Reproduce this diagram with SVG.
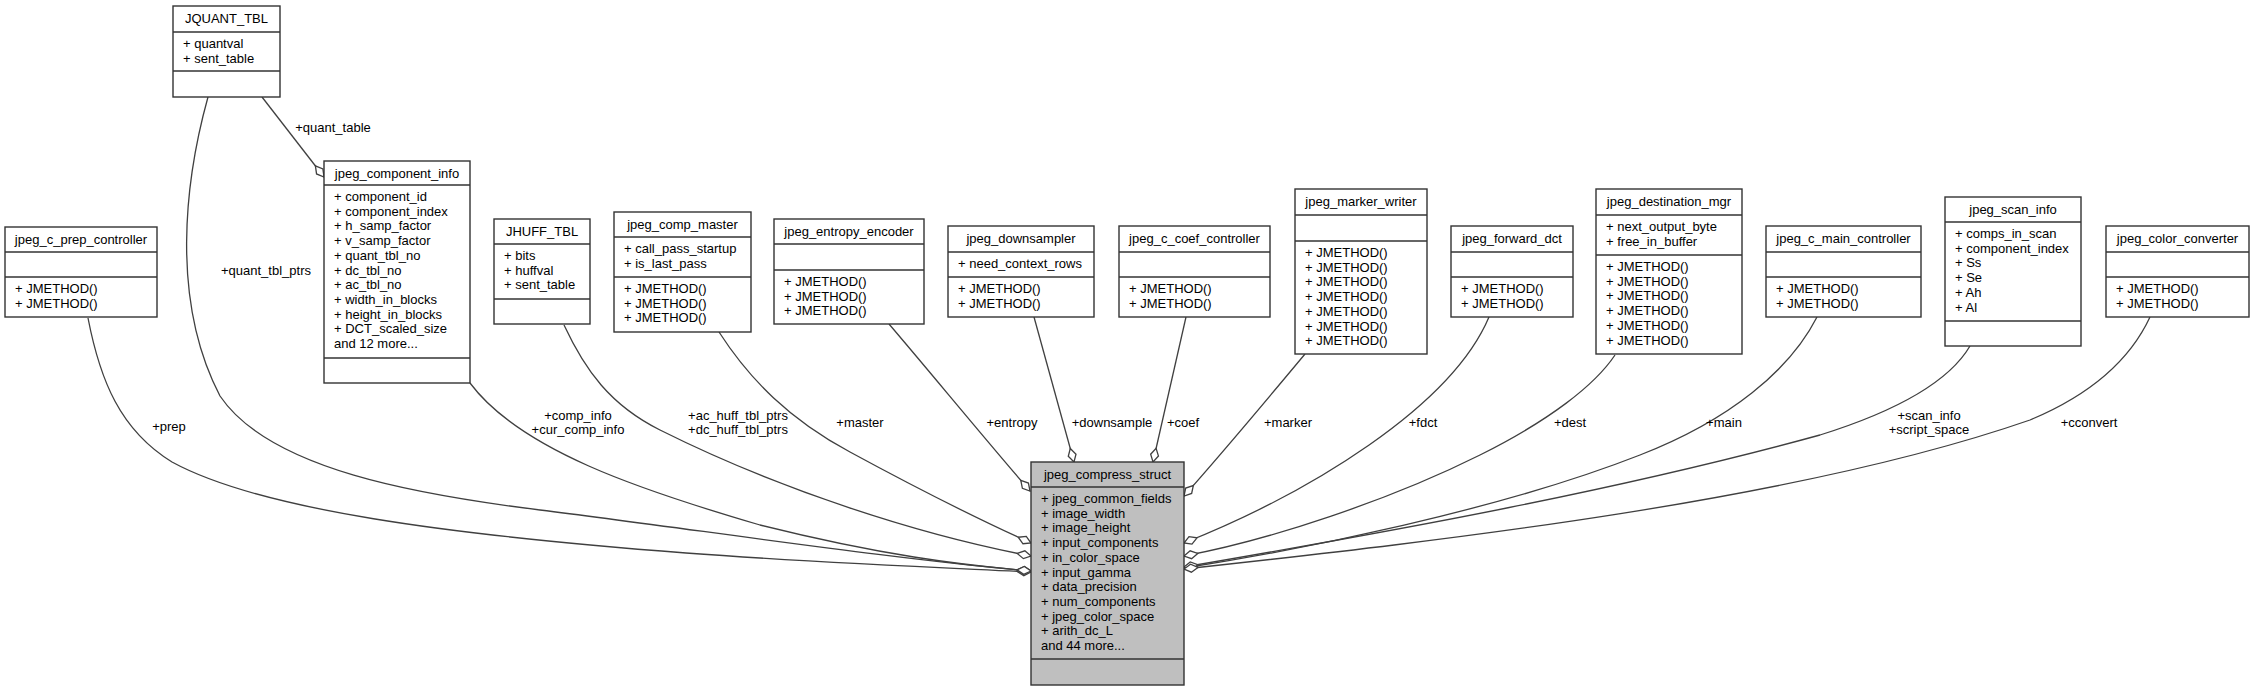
<svg xmlns="http://www.w3.org/2000/svg" width="2254" height="691" viewBox="0 0 2254 691">
<style>
.bg{fill:#ffffff}
.box{fill:#ffffff;stroke:#333333;stroke-width:1.4}
.main{fill:#bfbfbf}
.sep{stroke:#333333;stroke-width:1.4}
text{font-family:"Liberation Sans",Arial,Helvetica,sans-serif;font-size:13px;fill:#000000}
.c{text-anchor:middle}
.e{fill:none;stroke:#404040;stroke-width:1.3;marker-end:url(#d)}
</style>
<defs>
<marker id="d" markerUnits="userSpaceOnUse" markerWidth="16" markerHeight="10" refX="14" refY="5" orient="auto" viewBox="0 0 16 10" overflow="visible">
<path d="M0,5 L7,1 L14,5 L7,9 Z" fill="#ffffff" stroke="#404040" stroke-width="1.3"/>
</marker>
</defs>
<rect class="bg" x="0" y="0" width="2254" height="691"/>

<g id="connectors">
<path class="e" d="M262,97 L324,177"/>
<path class="e" d="M208,97 C185,180 170,300 220,396 C270,470 420,495 540,510 C700,530 900,560 1031,571"/>
<path class="e" d="M88,318 C100,380 120,430 172,462 C260,510 450,535 686,553 C820,563 950,568 1031,572"/>
<path class="e" d="M470,383 C520,450 640,490 760,525 C880,555 960,565 1031,571"/>
<path class="e" d="M564,325 C585,370 610,405 660,430 C780,490 920,535 1031,556"/>
<path class="e" d="M719,332 C750,380 790,420 850,452 C920,490 980,520 1031,543"/>
<path class="e" d="M889,324 C930,372 990,445 1030,491"/>
<path class="e" d="M1034,317 L1074,462"/>
<path class="e" d="M1186,317 L1153,462"/>
<path class="e" d="M1305,354 C1275,390 1225,450 1184,496"/>
<path class="e" d="M1489,317 C1451,407 1309,493 1184,543"/>
<path class="e" d="M1615,355 C1595,385 1550,420 1480,455 C1390,500 1270,540 1184,556"/>
<path class="e" d="M1817,317 C1790,370 1730,420 1640,455 C1500,510 1300,550 1184,568"/>
<path class="e" d="M1970,346 C1950,380 1900,410 1820,435 C1620,490 1400,530 1184,567"/>
<path class="e" d="M2150,317 C2130,360 2090,395 2030,420 C1800,500 1450,540 1184,569"/>
<text class="c" x="333" y="132">+quant_table</text>
<text class="c" x="266" y="275">+quant_tbl_ptrs</text>
<text class="c" x="169" y="431">+prep</text>
<text class="c" x="578" y="419.5">+comp_info</text>
<text class="c" x="578" y="434">+cur_comp_info</text>
<text class="c" x="738" y="419.5">+ac_huff_tbl_ptrs</text>
<text class="c" x="738" y="434">+dc_huff_tbl_ptrs</text>
<text class="c" x="860" y="426.5">+master</text>
<text class="c" x="1012" y="426.5">+entropy</text>
<text class="c" x="1112" y="426.5">+downsample</text>
<text class="c" x="1183" y="426.5">+coef</text>
<text class="c" x="1288" y="426.5">+marker</text>
<text class="c" x="1423" y="426.5">+fdct</text>
<text class="c" x="1570" y="426.5">+dest</text>
<text class="c" x="1724" y="426.5">+main</text>
<text class="c" x="1929" y="419.5">+scan_info</text>
<text class="c" x="1929" y="434">+script_space</text>
<text class="c" x="2089" y="426.5">+cconvert</text>
</g>

<g id="JQUANT_TBL">
<rect class="box" x="173" y="6" width="107" height="91"/>
<line class="sep" x1="173" y1="32" x2="280" y2="32"/>
<line class="sep" x1="173" y1="71" x2="280" y2="71"/>
<text class="c" x="226.5" y="22.5">JQUANT_TBL</text>
<text x="183" y="48">+ quantval</text>
<text x="183" y="62.7">+ sent_table</text>
</g>

<g id="jpeg_component_info">
<rect class="box" x="324" y="161" width="146" height="222"/>
<line class="sep" x1="324" y1="185" x2="470" y2="185"/>
<line class="sep" x1="324" y1="358" x2="470" y2="358"/>
<text class="c" x="397" y="177.5">jpeg_component_info</text>
<text x="334" y="201">+ component_id</text>
<text x="334" y="215.7">+ component_index</text>
<text x="334" y="230.4">+ h_samp_factor</text>
<text x="334" y="245.1">+ v_samp_factor</text>
<text x="334" y="259.8">+ quant_tbl_no</text>
<text x="334" y="274.5">+ dc_tbl_no</text>
<text x="334" y="289.2">+ ac_tbl_no</text>
<text x="334" y="303.9">+ width_in_blocks</text>
<text x="334" y="318.6">+ height_in_blocks</text>
<text x="334" y="333.3">+ DCT_scaled_size</text>
<text x="334" y="348">and 12 more...</text>
</g>

<g id="jpeg_c_prep_controller">
<rect class="box" x="5" y="227" width="152" height="90"/>
<line class="sep" x1="5" y1="252" x2="157" y2="252"/>
<line class="sep" x1="5" y1="277" x2="157" y2="277"/>
<text class="c" x="81" y="243.5">jpeg_c_prep_controller</text>
<text x="15" y="293">+ JMETHOD()</text>
<text x="15" y="307.7">+ JMETHOD()</text>
</g>

<g id="JHUFF_TBL">
<rect class="box" x="494" y="219" width="96" height="105"/>
<line class="sep" x1="494" y1="244" x2="590" y2="244"/>
<line class="sep" x1="494" y1="299" x2="590" y2="299"/>
<text class="c" x="542" y="235.5">JHUFF_TBL</text>
<text x="504" y="260">+ bits</text>
<text x="504" y="274.7">+ huffval</text>
<text x="504" y="289.4">+ sent_table</text>
</g>

<g id="jpeg_comp_master">
<rect class="box" x="614" y="212" width="137" height="120"/>
<line class="sep" x1="614" y1="237" x2="751" y2="237"/>
<line class="sep" x1="614" y1="277" x2="751" y2="277"/>
<text class="c" x="682.5" y="228.5">jpeg_comp_master</text>
<text x="624" y="253">+ call_pass_startup</text>
<text x="624" y="267.7">+ is_last_pass</text>
<text x="624" y="293">+ JMETHOD()</text>
<text x="624" y="307.7">+ JMETHOD()</text>
<text x="624" y="322.4">+ JMETHOD()</text>
</g>

<g id="jpeg_entropy_encoder">
<rect class="box" x="774" y="219" width="150" height="105"/>
<line class="sep" x1="774" y1="244" x2="924" y2="244"/>
<line class="sep" x1="774" y1="270" x2="924" y2="270"/>
<text class="c" x="849" y="235.5">jpeg_entropy_encoder</text>
<text x="784" y="286">+ JMETHOD()</text>
<text x="784" y="300.7">+ JMETHOD()</text>
<text x="784" y="315.4">+ JMETHOD()</text>
</g>

<g id="jpeg_downsampler">
<rect class="box" x="948" y="226" width="146" height="91"/>
<line class="sep" x1="948" y1="252" x2="1094" y2="252"/>
<line class="sep" x1="948" y1="277" x2="1094" y2="277"/>
<text class="c" x="1021" y="242.5">jpeg_downsampler</text>
<text x="958" y="268">+ need_context_rows</text>
<text x="958" y="293">+ JMETHOD()</text>
<text x="958" y="307.7">+ JMETHOD()</text>
</g>

<g id="jpeg_c_coef_controller">
<rect class="box" x="1119" y="226" width="151" height="91"/>
<line class="sep" x1="1119" y1="252" x2="1270" y2="252"/>
<line class="sep" x1="1119" y1="277" x2="1270" y2="277"/>
<text class="c" x="1194.5" y="242.5">jpeg_c_coef_controller</text>
<text x="1129" y="293">+ JMETHOD()</text>
<text x="1129" y="307.7">+ JMETHOD()</text>
</g>

<g id="jpeg_marker_writer">
<rect class="box" x="1295" y="189" width="132" height="165"/>
<line class="sep" x1="1295" y1="215" x2="1427" y2="215"/>
<line class="sep" x1="1295" y1="241" x2="1427" y2="241"/>
<text class="c" x="1361" y="205.5">jpeg_marker_writer</text>
<text x="1305" y="257">+ JMETHOD()</text>
<text x="1305" y="271.7">+ JMETHOD()</text>
<text x="1305" y="286.4">+ JMETHOD()</text>
<text x="1305" y="301.1">+ JMETHOD()</text>
<text x="1305" y="315.8">+ JMETHOD()</text>
<text x="1305" y="330.5">+ JMETHOD()</text>
<text x="1305" y="345.2">+ JMETHOD()</text>
</g>

<g id="jpeg_forward_dct">
<rect class="box" x="1451" y="226" width="122" height="91"/>
<line class="sep" x1="1451" y1="252" x2="1573" y2="252"/>
<line class="sep" x1="1451" y1="277" x2="1573" y2="277"/>
<text class="c" x="1512" y="242.5">jpeg_forward_dct</text>
<text x="1461" y="293">+ JMETHOD()</text>
<text x="1461" y="307.7">+ JMETHOD()</text>
</g>

<g id="jpeg_destination_mgr">
<rect class="box" x="1596" y="189" width="146" height="165"/>
<line class="sep" x1="1596" y1="215" x2="1742" y2="215"/>
<line class="sep" x1="1596" y1="255" x2="1742" y2="255"/>
<text class="c" x="1669" y="205.5">jpeg_destination_mgr</text>
<text x="1606" y="231">+ next_output_byte</text>
<text x="1606" y="245.7">+ free_in_buffer</text>
<text x="1606" y="271">+ JMETHOD()</text>
<text x="1606" y="285.7">+ JMETHOD()</text>
<text x="1606" y="300.4">+ JMETHOD()</text>
<text x="1606" y="315.1">+ JMETHOD()</text>
<text x="1606" y="329.8">+ JMETHOD()</text>
<text x="1606" y="344.5">+ JMETHOD()</text>
</g>

<g id="jpeg_c_main_controller">
<rect class="box" x="1766" y="226" width="155" height="91"/>
<line class="sep" x1="1766" y1="252" x2="1921" y2="252"/>
<line class="sep" x1="1766" y1="277" x2="1921" y2="277"/>
<text class="c" x="1843.5" y="242.5">jpeg_c_main_controller</text>
<text x="1776" y="293">+ JMETHOD()</text>
<text x="1776" y="307.7">+ JMETHOD()</text>
</g>

<g id="jpeg_scan_info">
<rect class="box" x="1945" y="197" width="136" height="149"/>
<line class="sep" x1="1945" y1="222" x2="2081" y2="222"/>
<line class="sep" x1="1945" y1="321" x2="2081" y2="321"/>
<text class="c" x="2013" y="213.5">jpeg_scan_info</text>
<text x="1955" y="238">+ comps_in_scan</text>
<text x="1955" y="252.7">+ component_index</text>
<text x="1955" y="267.4">+ Ss</text>
<text x="1955" y="282.1">+ Se</text>
<text x="1955" y="296.8">+ Ah</text>
<text x="1955" y="311.5">+ Al</text>
</g>

<g id="jpeg_color_converter">
<rect class="box" x="2106" y="226" width="143" height="91"/>
<line class="sep" x1="2106" y1="252" x2="2249" y2="252"/>
<line class="sep" x1="2106" y1="277" x2="2249" y2="277"/>
<text class="c" x="2177.5" y="242.5">jpeg_color_converter</text>
<text x="2116" y="293">+ JMETHOD()</text>
<text x="2116" y="307.7">+ JMETHOD()</text>
</g>

<g id="jpeg_compress_struct">
<rect class="box main" x="1031" y="462" width="153" height="223"/>
<line class="sep" x1="1031" y1="487" x2="1184" y2="487"/>
<line class="sep" x1="1031" y1="659" x2="1184" y2="659"/>
<text class="c" x="1107.5" y="478.5">jpeg_compress_struct</text>
<text x="1041" y="503">+ jpeg_common_fields</text>
<text x="1041" y="517.7">+ image_width</text>
<text x="1041" y="532.4">+ image_height</text>
<text x="1041" y="547.1">+ input_components</text>
<text x="1041" y="561.8">+ in_color_space</text>
<text x="1041" y="576.5">+ input_gamma</text>
<text x="1041" y="591.2">+ data_precision</text>
<text x="1041" y="605.9">+ num_components</text>
<text x="1041" y="620.6">+ jpeg_color_space</text>
<text x="1041" y="635.3">+ arith_dc_L</text>
<text x="1041" y="650">and 44 more...</text>
</g>
</svg>
